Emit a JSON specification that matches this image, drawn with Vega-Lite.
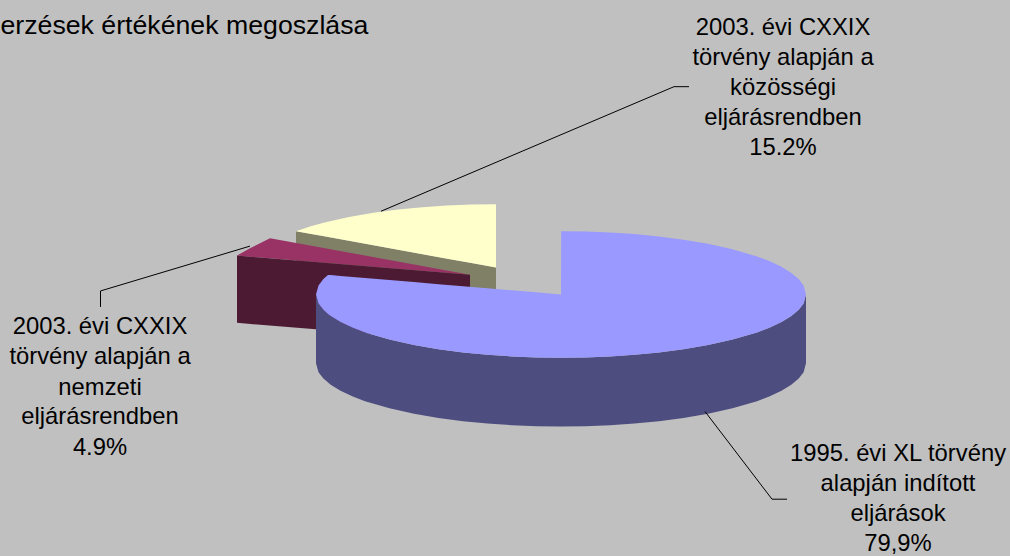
{
"$schema":"https://vega.github.io/schema/vega-lite/v6.json",
"width":1010,"height":556,
"autosize":{"type":"fit","contains":"padding"},
"padding":0,
"background":"#C0C0C0",
"view":{"stroke":null},
"datasets":{
"shapes":[
{"part":"yellowSide","x":296,"y":232,"y2":300},{"part":"yellowSide","x":496,"y":268.5,"y2":337},
{"part":"yellowTop","x":296,"y":232,"y2":232},{"part":"yellowTop","x":310,"y":227.2,"y2":234.6},{"part":"yellowTop","x":324.5,"y":223.2,"y2":237.2},{"part":"yellowTop","x":349,"y":217.7,"y2":241.6},{"part":"yellowTop","x":373.5,"y":213.5,"y2":246.1},{"part":"yellowTop","x":398,"y":210.3,"y2":250.6},{"part":"yellowTop","x":422.5,"y":207.9,"y2":255.1},{"part":"yellowTop","x":447,"y":206.3,"y2":259.6},{"part":"yellowTop","x":471.5,"y":205.3,"y2":264},{"part":"yellowTop","x":496,"y":205,"y2":268.5},
{"part":"magentaTop","x":237,"y":256.5,"y2":256.5},{"part":"magentaTop","x":250,"y":249.2,"y2":257.6},{"part":"magentaTop","x":270,"y":239,"y2":259.2},{"part":"magentaTop","x":470,"y":275.7,"y2":275.7},
{"part":"maroonWall","x":237,"y":256.5,"y2":324},{"part":"maroonWall","x":470,"y":275.7,"y2":343},
{"part":"blueWall","x":316,"y":295.5,"y2":364.5},{"part":"blueWall","x":318.5,"y":304.5,"y2":373.5},{"part":"blueWall","x":323.4,"y":310.9,"y2":379.9},{"part":"blueWall","x":330.7,"y":317.2,"y2":386.2},{"part":"blueWall","x":340.5,"y":323.2,"y2":392.2},{"part":"blueWall","x":352.8,"y":329,"y2":398},{"part":"blueWall","x":365,"y":333.6,"y2":402.6},{"part":"blueWall","x":389.5,"y":340.8,"y2":409.8},{"part":"blueWall","x":414,"y":346.3,"y2":415.3},{"part":"blueWall","x":438.5,"y":350.5,"y2":419.5},{"part":"blueWall","x":463,"y":353.7,"y2":422.7},{"part":"blueWall","x":487.5,"y":356.1,"y2":425.1},{"part":"blueWall","x":512,"y":357.7,"y2":426.7},{"part":"blueWall","x":536.5,"y":358.7,"y2":427.7},{"part":"blueWall","x":561,"y":359,"y2":428},{"part":"blueWall","x":585.5,"y":358.7,"y2":427.7},{"part":"blueWall","x":610,"y":357.7,"y2":426.7},{"part":"blueWall","x":634.5,"y":356.1,"y2":425.1},{"part":"blueWall","x":659,"y":353.7,"y2":422.7},{"part":"blueWall","x":683.5,"y":350.5,"y2":419.5},{"part":"blueWall","x":708,"y":346.3,"y2":415.3},{"part":"blueWall","x":732.5,"y":340.8,"y2":409.8},{"part":"blueWall","x":757,"y":333.6,"y2":402.6},{"part":"blueWall","x":769.3,"y":329,"y2":398},{"part":"blueWall","x":781.5,"y":323.2,"y2":392.2},{"part":"blueWall","x":791.3,"y":317.2,"y2":386.2},{"part":"blueWall","x":798.7,"y":310.9,"y2":379.9},{"part":"blueWall","x":803.6,"y":304.5,"y2":373.5},{"part":"blueWall","x":806,"y":295.5,"y2":364.5},
{"part":"blueTop","x":316,"y":295.5,"y2":295.5},{"part":"blueTop","x":318.5,"y":286.6,"y2":304.5},{"part":"blueTop","x":323.4,"y":280.1,"y2":310.9},{"part":"blueTop","x":328,"y":275.9,"y2":315.1},{"part":"blueTop","x":330.7,"y":276.1,"y2":317.2},{"part":"blueTop","x":340.5,"y":277,"y2":323.2},{"part":"blueTop","x":352.8,"y":278,"y2":329},{"part":"blueTop","x":365,"y":279,"y2":333.6},{"part":"blueTop","x":389.5,"y":281.1,"y2":340.8},{"part":"blueTop","x":414,"y":283.1,"y2":346.3},{"part":"blueTop","x":438.5,"y":285.2,"y2":350.5},{"part":"blueTop","x":463,"y":287.3,"y2":353.7},{"part":"blueTop","x":487.5,"y":289.3,"y2":356.1},{"part":"blueTop","x":512,"y":291.4,"y2":357.7},{"part":"blueTop","x":536.5,"y":293.4,"y2":358.7},{"part":"blueTop","x":561,"y":295.5,"y2":359},{"part":"blueTop","x":561.2,"y":232,"y2":359},{"part":"blueTop","x":585.5,"y":232.3,"y2":358.7},{"part":"blueTop","x":610,"y":233.3,"y2":357.7},{"part":"blueTop","x":634.5,"y":234.9,"y2":356.1},{"part":"blueTop","x":659,"y":237.3,"y2":353.7},{"part":"blueTop","x":683.5,"y":240.5,"y2":350.5},{"part":"blueTop","x":708,"y":244.7,"y2":346.3},{"part":"blueTop","x":732.5,"y":250.2,"y2":340.8},{"part":"blueTop","x":757,"y":257.4,"y2":333.6},{"part":"blueTop","x":769.3,"y":262,"y2":329},{"part":"blueTop","x":781.5,"y":267.8,"y2":323.2},{"part":"blueTop","x":791.3,"y":273.9,"y2":317.2},{"part":"blueTop","x":798.7,"y":280.1,"y2":310.9},{"part":"blueTop","x":803.6,"y":286.6,"y2":304.5},{"part":"blueTop","x":806,"y":295.5,"y2":295.5}
],
"leaders":[
{"slice":"a","i":0,"x":705,"y":413},{"slice":"a","i":1,"x":772,"y":501},{"slice":"a","i":2,"x":787,"y":501},
{"slice":"b","i":0,"x":381,"y":212},{"slice":"b","i":1,"x":674,"y":87},{"slice":"b","i":2,"x":689,"y":87},
{"slice":"c","i":0,"x":250,"y":247},{"slice":"c","i":1,"x":100.5,"y":292},{"slice":"c","i":2,"x":100.5,"y":308}
],
"labels":[
{"x":783,"y":35,"t":"2003. évi CXXIX"},{"x":783,"y":65,"t":"törvény alapján a"},{"x":783,"y":95,"t":"közösségi"},{"x":783,"y":125,"t":"eljárásrendben"},{"x":783,"y":156,"t":"15.2%"},
{"x":100,"y":335,"t":"2003. évi CXXIX"},{"x":100,"y":365,"t":"törvény alapján a"},{"x":100,"y":396,"t":"nemzeti"},{"x":100,"y":426,"t":"eljárásrendben"},{"x":100,"y":457,"t":"4.9%"},
{"x":898,"y":463,"t":"1995. évi XL törvény"},{"x":898,"y":493,"t":"alapján indított"},{"x":898,"y":523,"t":"eljárások"},{"x":898,"y":553,"t":"79,9%"}
]
},
"layer":[
{"data":{"name":"shapes"},
 "mark":{"type":"area","interpolate":"linear","clip":true},
 "encoding":{
  "x":{"field":"x","type":"quantitative","scale":{"domain":[0,1010],"nice":false,"zero":false},"axis":null},
  "y":{"field":"y","type":"quantitative","stack":null,"scale":{"domain":[556,0],"nice":false,"zero":false},"axis":null},
  "y2":{"field":"y2"},
  "color":{"field":"part","type":"nominal","legend":null,"scale":{"domain":["yellowSide","yellowTop","magentaTop","maroonWall","blueWall","blueTop"],"range":["#808066","#FFFFCC","#993366","#4D1A33","#4D4D80","#9999FF"]}}
 }},
{"data":{"name":"leaders"},
 "mark":{"type":"line","color":"#000000","strokeWidth":1},
 "encoding":{
  "x":{"field":"x","type":"quantitative"},
  "y":{"field":"y","type":"quantitative"},
  "detail":{"field":"slice"},
  "order":{"field":"i"}
 }},
{"data":{"name":"labels"},
 "mark":{"type":"text","font":"Liberation Sans","fontSize":23.8,"align":"center","baseline":"alphabetic","color":"#000000"},
 "encoding":{
  "x":{"field":"x","type":"quantitative"},
  "y":{"field":"y","type":"quantitative"},
  "text":{"field":"t"}
 }},
{"data":{"values":[{"x":0.5,"y":34,"t":"erzések értékének megoszlása"}]},
 "mark":{"type":"text","font":"Liberation Sans","fontSize":26.7,"align":"left","baseline":"alphabetic","color":"#000000"},
 "encoding":{
  "x":{"field":"x","type":"quantitative"},
  "y":{"field":"y","type":"quantitative"},
  "text":{"field":"t"}
 }}
]
}
